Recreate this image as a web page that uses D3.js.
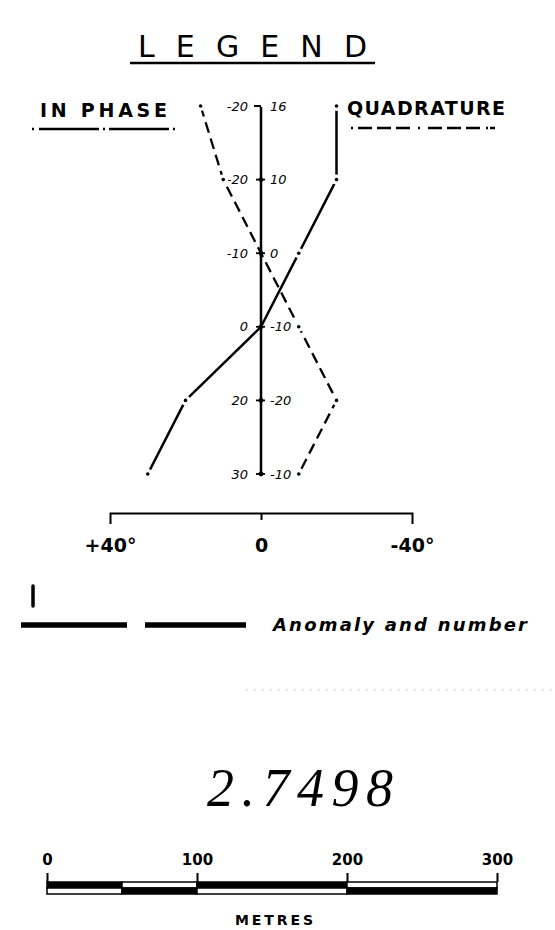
<!DOCTYPE html>
<html lang="en">
<head>
    <meta charset="UTF-8">
    <title>Legend - In Phase / Quadrature</title>
    <script src="https://cdnjs.cloudflare.com/ajax/libs/d3/7.8.5/d3.min.js"></script>
    <style>
        body {
            margin: 0;
            background-color: white;
        }
        svg {
            display: block;
        }
        .hand {
            font-family: 'DejaVu Sans', sans-serif;
            font-style: italic;
            font-size: 13px;
        }
        .caps {
            font-family: 'DejaVu Sans', sans-serif;
            font-weight: bold;
        }
        .axis path, .axis line {
            stroke: #000;
            stroke-width: 2;
        }
        .axis text {
            font-family: 'DejaVu Sans', sans-serif;
            font-weight: bold;
            fill: #000;
        }
    </style>
</head>
<body>
    <div id="chart"></div>

    <script>
        // data
        const stations = [0, 1, 2, 3, 4, 5];
        const inPhase = [-20, -20, -10, 0, 20, 30];
        const quadrature = [16, 10, 0, -10, -20, -10];
        const phaseTicks = [40, 0, -40];
        const phaseTickLabels = ["+40°", "0", "-40°"];
        const distanceTicks = [0, 100, 200, 300];
        const barBreaks = [0, 50, 100, 200, 300];

        const width = 555, height = 930;

        const svg = d3.select("#chart")
            .append("svg")
            .attr("width", width)
            .attr("height", height);

        const x = d3.scaleLinear().domain([40, -40]).range([110, 412]);
        const y = d3.scalePoint().domain(stations).range([106, 474]);
        const x0 = x(0);

        // title
        svg.append("text")
            .attr("x", 138).attr("y", 57)
            .attr("textLength", 229)
            .attr("lengthAdjust", "spacing")
            .style("font-family", "'DejaVu Sans', sans-serif")
            .style("font-size", "30px")
            .text("LEGEND");
        svg.append("line")
            .attr("x1", 130).attr("x2", 375)
            .attr("y1", 63).attr("y2", 63)
            .attr("stroke", "#000").attr("stroke-width", 2.5);

        // series headings + sample strokes
        svg.append("text")
            .attr("class", "caps")
            .attr("x", 40).attr("y", 117)
            .attr("textLength", 127)
            .attr("lengthAdjust", "spacing")
            .style("font-size", "19px")
            .text("IN PHASE");
        svg.append("text")
            .attr("class", "caps")
            .attr("x", 347).attr("y", 115)
            .attr("textLength", 158)
            .attr("lengthAdjust", "spacing")
            .style("font-size", "19px")
            .text("QUADRATURE");

        svg.append("line")
            .attr("x1", 32).attr("x2", 176)
            .attr("y1", 129).attr("y2", 129)
            .attr("stroke", "#000").attr("stroke-width", 2.5)
            .attr("stroke-dasharray", "2 5 60 4 2 4 60 4 2");
        svg.append("line")
            .attr("x1", 351).attr("x2", 501)
            .attr("y1", 128).attr("y2", 128)
            .attr("stroke", "#000").attr("stroke-width", 2.5)
            .attr("stroke-dasharray", "2 5 14 5 14 5 14 8 2 8 14 5 14 5 14 6 2");

        // centre (station) line
        svg.append("line")
            .attr("x1", x0).attr("x2", x0)
            .attr("y1", y(0) + 1).attr("y2", y(5))
            .attr("stroke", "#000").attr("stroke-width", 2.5);
        svg.append("line")
            .attr("x1", x0 - 7).attr("x2", x0)
            .attr("y1", y(0)).attr("y2", y(0))
            .attr("stroke", "#000").attr("stroke-width", 2);

        const stn = svg.append("g");
        stn.selectAll("line")
            .data(stations.slice(1))
            .join("line")
            .attr("x1", x0 - 5).attr("x2", x0 + 4)
            .attr("y1", d => y(d)).attr("y2", d => y(d))
            .attr("stroke", "#000").attr("stroke-width", 1.8);
        stn.selectAll("circle")
            .data(stations.slice(1))
            .join("circle")
            .attr("cx", x0).attr("cy", d => y(d))
            .attr("r", 2.4).attr("fill", "#000");

        // station labels: in-phase to the left, quadrature to the right
        svg.append("g").selectAll("text")
            .data(stations)
            .join("text")
            .attr("class", "hand")
            .attr("x", x0 - 13)
            .attr("y", d => y(d))
            .attr("dy", "0.35em")
            .attr("text-anchor", "end")
            .text(d => inPhase[d]);
        svg.append("g").selectAll("text")
            .data(stations)
            .join("text")
            .attr("class", "hand")
            .attr("x", x0 + 9)
            .attr("y", d => y(d))
            .attr("dy", "0.35em")
            .text(d => quadrature[d]);

        // profile curves
        const line = d3.line()
            .x(d => x(d.v))
            .y(d => y(d.s));

        const inData = stations.map(s => ({s, v: inPhase[s]}));
        const quData = stations.map(s => ({s, v: quadrature[s]}));

        svg.append("path")
            .datum(inData)
            .attr("d", line)
            .attr("fill", "none")
            .attr("stroke", "#000")
            .attr("stroke-width", 2.5)
            .attr("stroke-linejoin", "round");

        svg.append("path")
            .datum(quData)
            .attr("d", line)
            .attr("fill", "none")
            .attr("stroke", "#000")
            .attr("stroke-width", 2.3)
            .attr("stroke-linejoin", "round")
            .attr("stroke-dasharray", "11 6");

        // break the curves at each station and mark it with a dot
        [inData, quData].forEach(data => {
            const pts = data.filter(d => d.v !== 0);
            svg.append("g").selectAll("circle")
                .data(pts)
                .join("circle")
                .attr("cx", d => x(d.v)).attr("cy", d => y(d.s))
                .attr("r", 5).attr("fill", "white");
            svg.append("g").selectAll("circle")
                .data(pts)
                .join("circle")
                .attr("cx", d => x(d.v)).attr("cy", d => y(d.s))
                .attr("r", 1.8).attr("fill", "#000");
        });

        // phase angle bracket
        const phaseAxis = d3.axisBottom(x)
            .tickValues(phaseTicks)
            .tickFormat((d, i) => phaseTickLabels[i])
            .tickSizeInner(7)
            .tickSizeOuter(11)
            .tickPadding(19);
        svg.append("g")
            .attr("class", "axis")
            .attr("transform", "translate(0,513)")
            .call(phaseAxis)
            .call(g => g.selectAll("text").style("font-size", "19px"))
            .call(g => g.selectAll(".tick").filter(d => d !== 0).select("line").remove());

        // anomaly symbol
        svg.append("line")
            .attr("x1", 33).attr("x2", 33)
            .attr("y1", 586).attr("y2", 606)
            .attr("stroke", "#000").attr("stroke-width", 3.5)
            .attr("stroke-linecap", "round");
        svg.append("line")
            .attr("x1", 21).attr("x2", 127)
            .attr("y1", 625).attr("y2", 625)
            .attr("stroke", "#000").attr("stroke-width", 5.5);
        svg.append("line")
            .attr("x1", 145).attr("x2", 246)
            .attr("y1", 625).attr("y2", 625)
            .attr("stroke", "#000").attr("stroke-width", 5.5);
        svg.append("text")
            .attr("x", 273).attr("y", 631)
            .attr("textLength", 254)
            .attr("lengthAdjust", "spacing")
            .style("font-family", "'DejaVu Sans', sans-serif")
            .style("font-style", "italic")
            .style("font-weight", "bold")
            .style("font-size", "18px")
            .text("Anomaly and number");

        // faint scan line
        svg.append("line")
            .attr("x1", 245).attr("x2", 555)
            .attr("y1", 690).attr("y2", 690)
            .attr("stroke", "#d6d6d6").attr("stroke-width", 1)
            .attr("stroke-dasharray", "3 5");

        // sheet number
        svg.append("text")
            .attr("x", 207).attr("y", 806)
            .attr("textLength", 186)
            .attr("lengthAdjust", "spacing")
            .style("font-family", "'Liberation Serif', serif")
            .style("font-style", "italic")
            .style("font-size", "54px")
            .text("2.7498");

        // scale bar
        const xd = d3.scaleLinear().domain([0, 300]).range([47, 497]);
        svg.append("g")
            .attr("class", "axis")
            .attr("transform", "translate(0,882)")
            .call(d3.axisTop(xd)
                .tickValues(distanceTicks)
                .tickSize(9)
                .tickPadding(8))
            .call(g => g.select(".domain").remove())
            .call(g => g.selectAll("text").style("font-size", "15px"));

        const segs = d3.pairs(barBreaks);
        const bar = svg.append("g");
        bar.selectAll(".up")
            .data(segs)
            .join("rect")
            .attr("x", d => xd(d[0])).attr("width", d => xd(d[1]) - xd(d[0]))
            .attr("y", 882).attr("height", 6)
            .attr("fill", (d, i) => i % 2 === 0 ? "#000" : "white")
            .attr("stroke", "#000").attr("stroke-width", 1.5);
        bar.selectAll(".lo")
            .data(segs)
            .join("rect")
            .attr("x", d => xd(d[0])).attr("width", d => xd(d[1]) - xd(d[0]))
            .attr("y", 888).attr("height", 6)
            .attr("fill", (d, i) => i % 2 === 0 ? "white" : "#000")
            .attr("stroke", "#000").attr("stroke-width", 1.5);

        svg.append("text")
            .attr("class", "caps")
            .attr("x", 235).attr("y", 925)
            .attr("textLength", 78)
            .attr("lengthAdjust", "spacing")
            .style("font-size", "14px")
            .text("METRES");
    </script>
</body>
</html>
